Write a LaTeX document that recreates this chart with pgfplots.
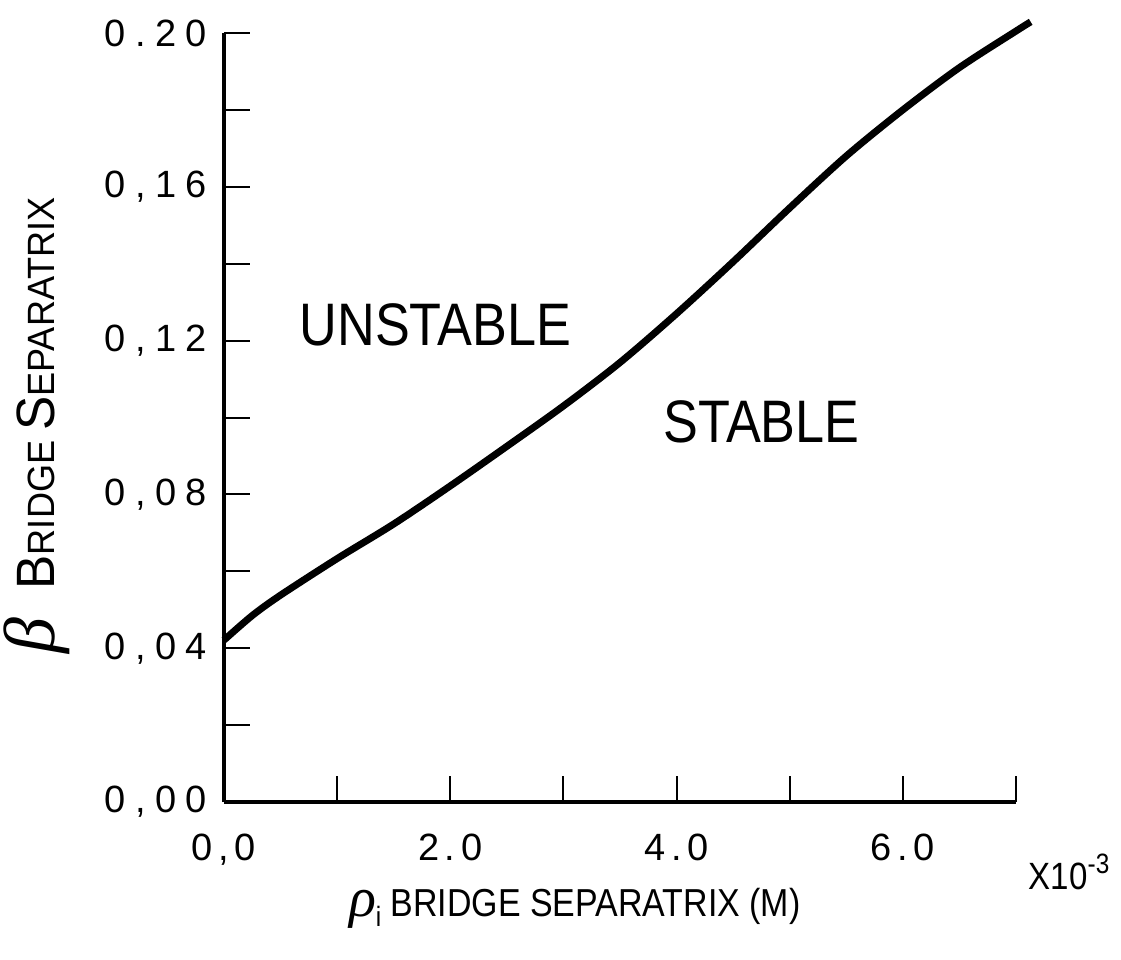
\documentclass[border=0pt]{standalone}
\usepackage{fontspec}
\setmainfont{Liberation Sans}
\newfontfamily\ytf[LetterSpace=25]{Liberation Sans}
\newfontfamily\xtf[LetterSpace=15]{Liberation Sans}
\newfontfamily\lbl[FakeStretch=0.87]{Liberation Sans}
\newfontfamily\ylb[FakeStretch=0.95]{Liberation Sans}
\newfontfamily\grk{Liberation Serif}
\usepackage{pgfplots}
\pgfplotsset{compat=1.18}
\begin{document}
\begin{tikzpicture}
\begin{axis}[
  scale only axis, width=396pt, height=384.5pt,
  xmin=0, xmax=7, ymin=0, ymax=0.2,
  axis x line*=bottom, axis y line*=left,
  axis line style={line width=2pt},
  clip=false,
  tick align=inside, major tick length=13pt,
  every tick/.style={black, line width=1pt},
  xtick={0,1,2,3,4,5,6,7},
  xticklabels={{0,0},{},{2.0},{},{4.0},{},{6.0},{}},
  ytick={0,0.02,0.04,0.06,0.08,0.1,0.12,0.14,0.16,0.18,0.2},
  yticklabels={{0,00},{},{0,04},{},{0,08},{},{0,12},{},{0,16},{},{0.20}},
  xticklabel style={font=\xtf\fontsize{19}{19}\selectfont, yshift=-12.5pt},
  yticklabel style={font=\ytf\fontsize{19}{19}\selectfont, xshift=-5pt},
]
\addplot[line width=3.5pt, smooth, black] coordinates {
(0,0.0421) (0.25,0.0485) (0.5,0.0538) (1.0,0.0633) (1.5,0.0723) (2.0,0.0822)
(2.5,0.0925) (3.0,0.1030) (3.5,0.1143) (4.0,0.1270) (4.5,0.1405) (5.0,0.1545)
(5.5,0.1680) (6.0,0.1800) (6.5,0.1910) (7.0,0.2005) (7.13,0.2029)
};
\node[font=\lbl\fontsize{30}{30}\selectfont] at (axis cs:1.87,0.124) {UNSTABLE};
\node[font=\lbl\fontsize{30}{30}\selectfont] at (axis cs:4.75,0.099) {STABLE};
\node[font=\lbl\fontsize{19.5}{19.5}\selectfont, yshift=-53pt] at (axis cs:3.1,0)
  {{\grk\itshape\fontsize{28}{28}\selectfont ρ}\raisebox{-5pt}{\fontsize{14}{14}\selectfont i}\ BRIDGE SEPARATRIX (M)};
\node[font=\lbl\fontsize{19}{19}\selectfont, yshift=-35pt] at (axis cs:7.47,0)
  {X10\raisebox{8pt}{\fontsize{14}{14}\selectfont -3}};
\node[rotate=90, anchor=base, font=\ylb\fontsize{19}{19}\selectfont] at ([xshift=-84.5pt]axis cs:0,0.098)
  {{\grk\itshape\fontsize{36}{36}\selectfont β}\hspace{14pt}{\fontsize{27}{27}\selectfont B}RIDGE {\fontsize{27}{27}\selectfont S}EPARATRIX};
\coordinate (O) at (axis cs:0,0);
\end{axis}
\pgfresetboundingbox
\path[use as bounding box] ([shift={(-112pt,-79pt)}]O) rectangle ([shift={(448.5pt,401pt)}]O);
\end{tikzpicture}
\end{document}
